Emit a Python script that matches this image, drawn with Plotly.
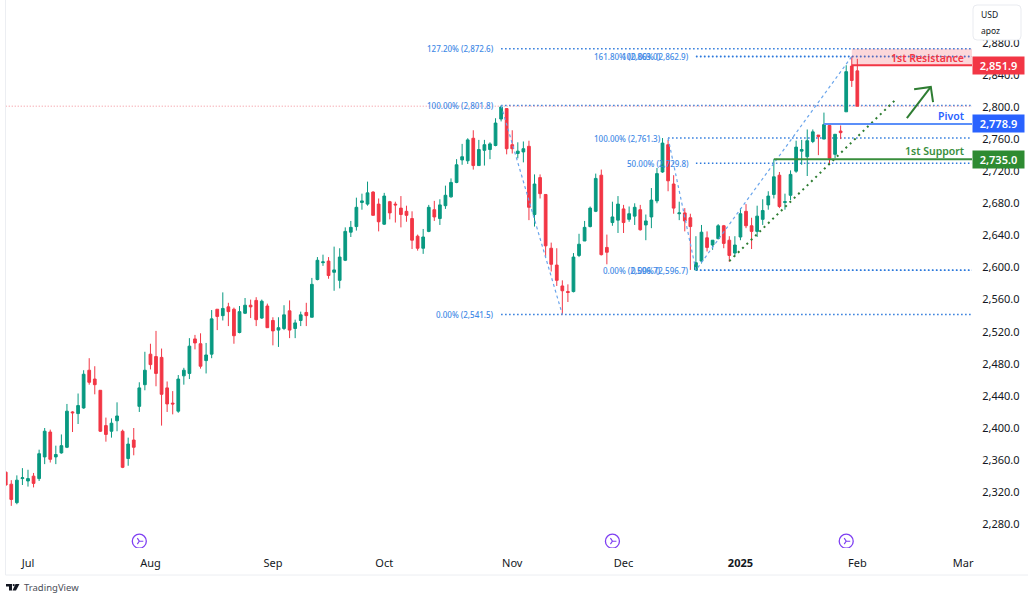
# Gold daily candles with fib levels, pivot / support / resistance
import plotly.graph_objects as go

opens = [2345,2330,2307,2337,2334,2340,2337,2364,2395,2364,2369,2376,2420,2418,2425,2472,2461,2447,2403,2396,
         2409,2396,2362,2385,2427,2454,2492,2489,2488,2450,2431,2421,2465,2468,2511,2505,2484,2492,2548,2540,
         2551,2548,2519,2543,2553,2559,2537,2552,2534,2522,2524,2546,2524,2534,2544,2538,2585,2606,2608,2594,
         2584,2609,2644,2651,2681,2679,2694,2679,2654,2682,2679,2674,2670,2661,2639,2624,2645,2672,2661,2677,
         2688,2706,2734,2733,2761,2727,2746,2747,2752,2785,2798,2753,2742,2744,2751,2666,2712,2691,2624,2603,
         2577,2570,2570,2615,2633,2651,2670,2715,2625,2656,2659,2673,2660,2664,2672,2653,2663,2683,2719,2753,
         2704,2667,2668,2662,2597,2608,2637,2628,2636,2652,2634,2618,2638,2670,2652,2645,2660,2678,2691,2715,
         2681,2690,2720,2745,2738,2757,2765,2760,2777,2741,2770,2794,2851,2845]
highs = [2346,2335,2341,2350,2348,2344,2373,2400,2398,2378,2392,2430,2421,2443,2472,2487,2477,2447,2413,2412,
         2432,2398,2388,2400,2457,2495,2505,2521,2499,2458,2446,2466,2475,2512,2516,2518,2506,2547,2548,2569,
         2556,2550,2552,2562,2560,2563,2560,2555,2538,2538,2553,2559,2535,2545,2556,2587,2613,2616,2613,2626,
         2624,2650,2658,2687,2692,2707,2695,2686,2693,2683,2682,2689,2677,2670,2641,2648,2678,2683,2685,2702,
         2711,2735,2754,2761,2771,2759,2759,2756,2786,2801.8,2798,2771,2756,2757,2758,2716,2716,2691,2631,2624,
         2584,2579,2618,2642,2658,2676,2717,2722,2641,2682,2689,2678,2676,2680,2678,2666,2699,2724,2761.3,2759,
         2715,2682,2674,2667,2639,2653,2645,2634,2654,2653,2639,2639,2674,2679,2662,2677,2685,2695,2735,2719,
         2692,2721,2758,2759,2772,2772,2765,2793,2778,2766,2777,2852,2862.9,2860]
lows = [2328,2303,2305,2329,2327,2326,2334,2355,2357,2355,2368,2375,2395,2405,2424,2454,2442,2395,2383,2388,
        2396,2350,2353,2366,2420,2447,2473,2452,2403,2420,2417,2419,2454,2461,2498,2474,2468,2487,2522,2534,
        2527,2505,2518,2542,2537,2527,2536,2525,2503,2501,2522,2512,2512,2527,2527,2538,2584,2602,2586,2571,
        2574,2608,2638,2646,2672,2677,2665,2645,2653,2660,2656,2650,2657,2623,2621,2617,2644,2658,2653,2673,
        2687,2705,2728,2729,2722,2727,2727,2735,2751,2782,2741,2742,2736,2731,2659,2651,2686,2613,2595,2577,
        2541.5,2557,2569,2613,2633,2650,2669,2615,2604,2652,2643,2643,2657,2653,2646,2634,2649,2680,2718,2695,
        2667,2659,2645,2597,2596.7,2605,2620,2622,2635,2624,2607,2614,2634,2649,2623,2638,2653,2672,2686,2674,
        2672,2684,2718,2728,2714,2755,2740,2760,2728,2736,2760,2794,2825,2801]
closes = [2329,2311,2335,2338,2337,2331,2368,2396,2361,2367,2378,2421,2419,2428,2467,2457,2454,2396,2392,2406,
          2415,2351,2380,2376,2450,2472,2479,2468,2442,2430,2430,2461,2472,2502,2506,2477,2491,2536,2539,2549,
          2545,2515,2545,2553,2551,2535,2558,2525,2521,2525,2541,2522,2531,2541,2540,2579,2609,2607,2590,2597,
          2613,2645,2650,2675,2683,2693,2665,2657,2689,2668,2678,2666,2665,2634,2624,2638,2675,2663,2678,2690,
          2706,2728,2738,2759,2727,2747,2753,2754,2780,2800,2748,2748,2745,2748,2675,2704,2692,2627,2604,2584,
          2571,2569,2613,2629,2650,2674,2711,2616,2619,2663,2679,2656,2667,2675,2647,2658,2684,2717,2755,2708,
          2674,2668,2658,2651,2606,2644,2625,2634,2652,2630,2615,2628,2667,2652,2645,2664,2671,2689,2713,2676,
          2682,2716,2750,2747,2758,2769,2763,2778,2736,2766,2768,2844,2833,2801]

month_idx = [4, 26, 48, 68, 91, 111, 132, 153, 172]
month_labels = ["Jul", "Aug", "Sep", "Oct", "Nov", "Dec", "<b>2025</b>", "Feb", "Mar"]
price_ticks = [2280, 2320, 2360, 2400, 2440, 2480, 2520, 2560, 2600, 2640, 2680, 2720, 2760, 2800, 2840, 2880]

# fib levels
fib_prices = [2872.6, 2801.8, 2541.5, 2863.0, 2761.3, 2596.7, 2862.9, 2729.8, 2596.7]
fib_texts = ["127.20% (2,872.6)", "100.00% (2,801.8)", "0.00% (2,541.5)",
             "161.80% (2,863.0)", "100.00% (2,761.3)", "0.00% (2,596.7)",
             "100.00% (2,862.9)", "50.00% (2,729.8)", "0.00% (2,596.7)"]
fib_label_idx = [89, 89, 89, 119, 119, 119, 124, 124, 124]
fib_line_idx = [89, 89, 89, 124, 119, 124, 124, 124, 124]
swing_idx = [89, 100, 119, 124, 152]
swing_prices = [2801.8, 2541.5, 2761.3, 2596.7, 2862.9]

# levels drawn by hand on the chart
resistance, resistance_top = 2851.9, 2872.6
pivot = 2778.9
support = 2735.0
trend_idx = [130, 160]
trend_prices = [2608, 2810]
arrow_idx = [161.9, 166.2, None, 163.2, 166.2, 166.6]
arrow_prices = [2786, 2825, None, 2822, 2825, 2806]
event_idx = [24, 109, 151]

x_end = 173.6
W, H = 1028, 600
GREEN, RED = "#089981", "#F23645"
PLOT_L, PLOT_R, PLOT_B = 6, 972, 548


def px(v):
    return (v - PLOT_L) / (PLOT_R - PLOT_L)


def py(v):
    return (PLOT_B - v) / PLOT_B


idx = list(range(len(opens)))

fig = go.Figure()
fig.add_trace(go.Candlestick(
    x=idx, open=opens, high=highs, low=lows, close=closes,
    increasing=dict(line=dict(color=GREEN, width=1), fillcolor=GREEN),
    decreasing=dict(line=dict(color=RED, width=1), fillcolor=RED),
    whiskerwidth=0, showlegend=False, hoverinfo="skip",
))
# fib swing lines
fig.add_trace(go.Scatter(x=swing_idx[:2], y=swing_prices[:2], mode="lines", showlegend=False, hoverinfo="skip",
                         line=dict(color="#6aa5ec", width=1.2, dash="3px,3px")))
fig.add_trace(go.Scatter(x=swing_idx[2:], y=swing_prices[2:], mode="lines", showlegend=False, hoverinfo="skip",
                         line=dict(color="#6aa5ec", width=1.2, dash="3px,3px")))
fig.add_trace(go.Scatter(x=trend_idx, y=trend_prices, mode="lines", showlegend=False, hoverinfo="skip",
                         line=dict(color="#2e7d32", width=2, dash="2px,4px")))
fig.add_trace(go.Scatter(x=arrow_idx, y=arrow_prices, mode="lines", showlegend=False, hoverinfo="skip",
                         line=dict(color="#2e7d32", width=2)))
# purple event markers sit just above the time scale
event_y = [2259] * len(event_idx)
fig.add_trace(go.Scatter(x=event_idx, y=event_y, mode="markers", showlegend=False, hoverinfo="skip",
                         marker=dict(symbol="circle-open", size=14, color="#7E3FF2", line=dict(width=1.3, color="#7E3FF2"))))
fig.add_trace(go.Scatter(x=event_idx, y=event_y, mode="markers", showlegend=False, hoverinfo="skip",
                         marker=dict(symbol="y-right-open", size=5, color="#7E3FF2", line=dict(width=1.1, color="#7E3FF2"))))

shapes = []
for p, i in zip(fib_prices, fib_line_idx):
    shapes.append(dict(type="line", layer="below", xref="x", yref="y", x0=i, x1=x_end, y0=p, y1=p,
                       line=dict(color="#2b78dc", width=1.5, dash="1.5px,2.5px")))
# last price line
shapes.append(dict(type="line", layer="below", xref="x", yref="y", x0=0, x1=x_end, y0=closes[-1], y1=closes[-1],
                   line=dict(color="#f28b95", width=1, dash="1px,2px")))
shapes.append(dict(type="rect", layer="below", xref="x", yref="y", x0=152, x1=x_end, y0=resistance, y1=resistance_top,
                   fillcolor="rgba(242,54,69,0.2)", line=dict(width=0)))
shapes.append(dict(type="line", xref="x", yref="y", x0=152, x1=x_end, y0=resistance, y1=resistance,
                   line=dict(color=RED, width=2)))
shapes.append(dict(type="line", xref="x", yref="y", x0=147, x1=x_end, y0=pivot, y1=pivot,
                   line=dict(color="#5b8ff9", width=2)))
shapes.append(dict(type="line", xref="x", yref="y", x0=138, x1=x_end, y0=support, y1=support,
                   line=dict(color="#388E3C", width=2)))
# panel borders
shapes.append(dict(type="line", xref="paper", yref="paper", x0=px(5.5), x1=px(5.5), y0=py(0), y1=py(575),
                   line=dict(color="#eceef2", width=1)))
shapes.append(dict(type="line", xref="paper", yref="paper", x0=px(5.5), x1=px(1028), y0=py(575), y1=py(575),
                   line=dict(color="#eceef2", width=1)))
# USD / unit box, rounded
bx0, bx1, by0, by1, r = 973, 1021, 5, 40, 4
box = "M {} {} L {} {} Q {} {} {} {} L {} {} Q {} {} {} {} L {} {} Q {} {} {} {} L {} {} Q {} {} {} {} Z".format(
    px(bx0 + r), py(by0), px(bx1 - r), py(by0), px(bx1), py(by0), px(bx1), py(by0 + r),
    px(bx1), py(by1 - r), px(bx1), py(by1), px(bx1 - r), py(by1),
    px(bx0 + r), py(by1), px(bx0), py(by1), px(bx0), py(by1 - r),
    px(bx0), py(by0 + r), px(bx0), py(by0), px(bx0 + r), py(by0))
shapes.append(dict(type="path", xref="paper", yref="paper", path=box, fillcolor="white",
                   line=dict(color="#e9ebf0", width=1)))
# TradingView logo
logo = "M {} {} L {} {} L {} {} L {} {} L {} {} L {} {} Z".format(
    px(6), py(584), px(12), py(584), px(12), py(590.5), px(9), py(590.5), px(9), py(586.5), px(6), py(586.5))
logo2 = "M {} {} L {} {} L {} {} L {} {} Z".format(
    px(15.5), py(584), px(19.5), py(584), px(16), py(590.5), px(12.5), py(590.5))
shapes.append(dict(type="path", xref="paper", yref="paper", path=logo, fillcolor="#131722", line=dict(width=0)))
shapes.append(dict(type="path", xref="paper", yref="paper", path=logo2, fillcolor="#131722", line=dict(width=0)))
shapes.append(dict(type="circle", xref="paper", yref="paper", x0=px(12.6), x1=px(14.8), y0=py(584), y1=py(586.2),
                   fillcolor="#131722", line=dict(width=0)))

annotations = []
for t, p, i in zip(fib_texts, fib_prices, fib_label_idx):
    annotations.append(dict(x=i, y=p, text=t, xref="x", yref="y", xanchor="right", yanchor="middle", xshift=-5,
                            showarrow=False, font=dict(size=8, color="#3f8ae6", weight=500)))
for t, p, c in [("1st Resistance", resistance + 9, RED), ("Pivot", pivot + 10, "#2962FF"), ("1st Support", support + 10, "#388E3C")]:
    annotations.append(dict(x=px(966), y=p, text=t, xref="paper", yref="y", xanchor="right", yanchor="middle",
                            showarrow=False, font=dict(size=10.5, color=c, weight=600)))
for v, c in [(resistance, RED), (pivot, "#2962FF"), (support, "#2E8B32")]:
    annotations.append(dict(x=1, y=v, text="{:,.1f}".format(v), xref="paper", yref="y", xanchor="left", yanchor="middle",
                            showarrow=False, align="center", width=49, height=15, bgcolor=c,
                            font=dict(size=11, color="white", weight=600)))
annotations.append(dict(x=px(979), y=py(15), text="USD", xref="paper", yref="paper", xanchor="left", yanchor="middle",
                        showarrow=False, font=dict(size=8.5, color="#131722")))
annotations.append(dict(x=px(979), y=py(31), text="apoz", xref="paper", yref="paper", xanchor="left", yanchor="middle",
                        showarrow=False, font=dict(size=8.5, color="#131722")))
annotations.append(dict(x=px(22), y=py(587.5), text="TradingView", xref="paper", yref="paper", xanchor="left", yanchor="middle",
                        showarrow=False, font=dict(size=9.5, color="#4a4e58")))

fig.update_layout(
    width=W, height=H, margin=dict(l=PLOT_L, r=W - PLOT_R, t=0, b=H - PLOT_B, pad=0),
    paper_bgcolor="white", plot_bgcolor="white",
    font=dict(family="Noto Sans", size=11, color="#131722"),
    boxgap=0.3, showlegend=False, shapes=shapes, annotations=annotations,
    xaxis=dict(range=[0.05, x_end], rangeslider=dict(visible=False), showgrid=False, zeroline=False, showline=False,
               tickmode="array", tickvals=month_idx, ticktext=month_labels, ticks="outside", ticklen=5,
               tickcolor="rgba(0,0,0,0)", tickfont=dict(size=11)),
    yaxis=dict(range=[2250.5, 2933.3], side="right", showgrid=False, zeroline=False, showline=False,
               tickmode="array", tickvals=price_ticks, tickformat=",.1f", ticks="outside", ticklen=7,
               tickcolor="rgba(0,0,0,0)", tickfont=dict(size=11)),
)

fig.write_html("out.html", config=dict(displayModeBar=False), post_script="document.body.style.margin='0';")
